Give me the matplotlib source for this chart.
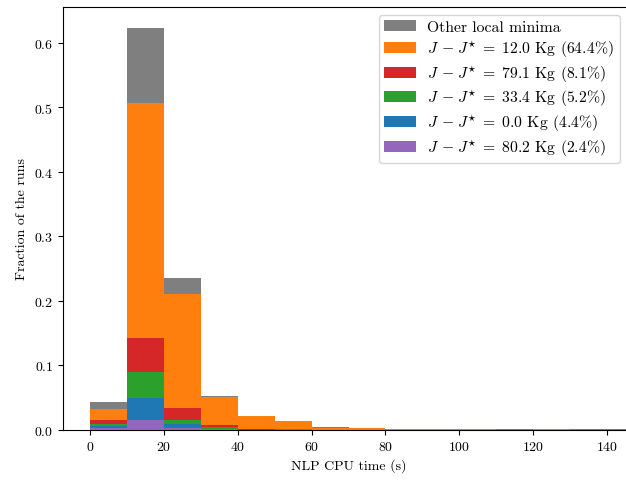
import matplotlib
matplotlib.use("Agg")
import matplotlib.pyplot as plt
import numpy as np

plt.rcParams['font.family'] = 'serif'
plt.rcParams['font.serif'] = ['cmr10']
plt.rcParams['mathtext.fontset'] = 'cm'
plt.rcParams['axes.formatter.use_mathtext'] = True
plt.rcParams['font.size'] = 10

# bin edges (s), width 10
bin_edges = [0, 10, 20, 30, 40, 50, 60, 70, 80, 90, 100, 110, 120, 130, 140, 150]

# fractions per bin for each solution family (bottom to top in the stack)
purple = [0.003, 0.016, 0.003, 0.001, 0.000, 0.001, 0, 0, 0, 0, 0, 0, 0, 0, 0]
blue   = [0.003, 0.034, 0.006, 0.001, 0.000, 0.000, 0, 0, 0, 0, 0, 0, 0, 0, 0]
green  = [0.003, 0.040, 0.007, 0.002, 0.000, 0.000, 0, 0, 0, 0, 0, 0, 0, 0, 0]
red    = [0.006, 0.053, 0.018, 0.003, 0.001, 0.000, 0, 0, 0, 0, 0, 0, 0, 0, 0]
orange = [0.017, 0.363, 0.177, 0.044, 0.020, 0.013, 0.003, 0.003, 0.001, 0.001, 0.001, 0.000, 0.001, 0.000, 0.000]
gray   = [0.011, 0.117, 0.025, 0.002, 0.000, 0.000, 0.001, 0.000, 0.000, 0.000, 0.000, 0.001, 0.000, 0.001, 0.001]

labels = [
    r'$J\;\,{-}\:J^{\star}\;{=}\;12.0$ Kg (64.4%)',
    r'$J\;\,{-}\:J^{\star}\;{=}\;79.1$ Kg (8.1%)',
    r'$J\;\,{-}\:J^{\star}\;{=}\;33.4$ Kg (5.2%)',
    r'$J\;\,{-}\:J^{\star}\;{=}\;0.0$ Kg (4.4%)',
    r'$J\;\,{-}\:J^{\star}\;{=}\;80.2$ Kg (2.4%)',
]

series = [
    (purple, '#9467bd', labels[4]),
    (blue, '#1f77b4', labels[3]),
    (green, '#2ca02c', labels[2]),
    (red, '#d62728', labels[1]),
    (orange, '#ff7f0e', labels[0]),
    (gray, '#7f7f7f', 'Other local minima'),
]

W, H = 626, 481
fig = plt.figure(figsize=(W / 100, H / 100), dpi=100)
x0_px, xpu = 90.0, 3.693
xl, xr = -7.3, 147.5
left_px = x0_px + xl * xpu
right_px = x0_px + xr * xpu
bottom_px, top_px = 431.0, 7.5
ax = fig.add_axes([left_px / W, 1 - bottom_px / H, (right_px - left_px) / W, (bottom_px - top_px) / H])

lefts = np.array(bin_edges[:-1], dtype=float)
widths = np.diff(bin_edges)
bottom = np.zeros(len(lefts))
handles = []
for vals, col, lab in series:
    v = np.array(vals, dtype=float)
    b = ax.bar(lefts, v, width=widths, bottom=bottom, align='edge', color=col, label=lab, linewidth=0)
    handles.append(b)
    bottom = bottom + v

ax.set_xlim(xl, xr)
ax.set_ylim(0, 0.656)
ax.set_xticks([0, 20, 40, 60, 80, 100, 120, 140])
ax.set_yticks([0.0, 0.1, 0.2, 0.3, 0.4, 0.5, 0.6])
ax.set_xlabel('NLP CPU time (s)')
ax.set_ylabel('Fraction of the runs')

ax.legend(handles[::-1], [h.get_label() for h in handles[::-1]],
          loc='upper right', bbox_to_anchor=(619.5 / W, 1 - 15.5 / H),
          bbox_transform=fig.transFigure, borderaxespad=0,
          fontsize=11.3, labelspacing=0.24, borderpad=0.35, handletextpad=0.75)

fig.savefig('out.png', dpi=100)
